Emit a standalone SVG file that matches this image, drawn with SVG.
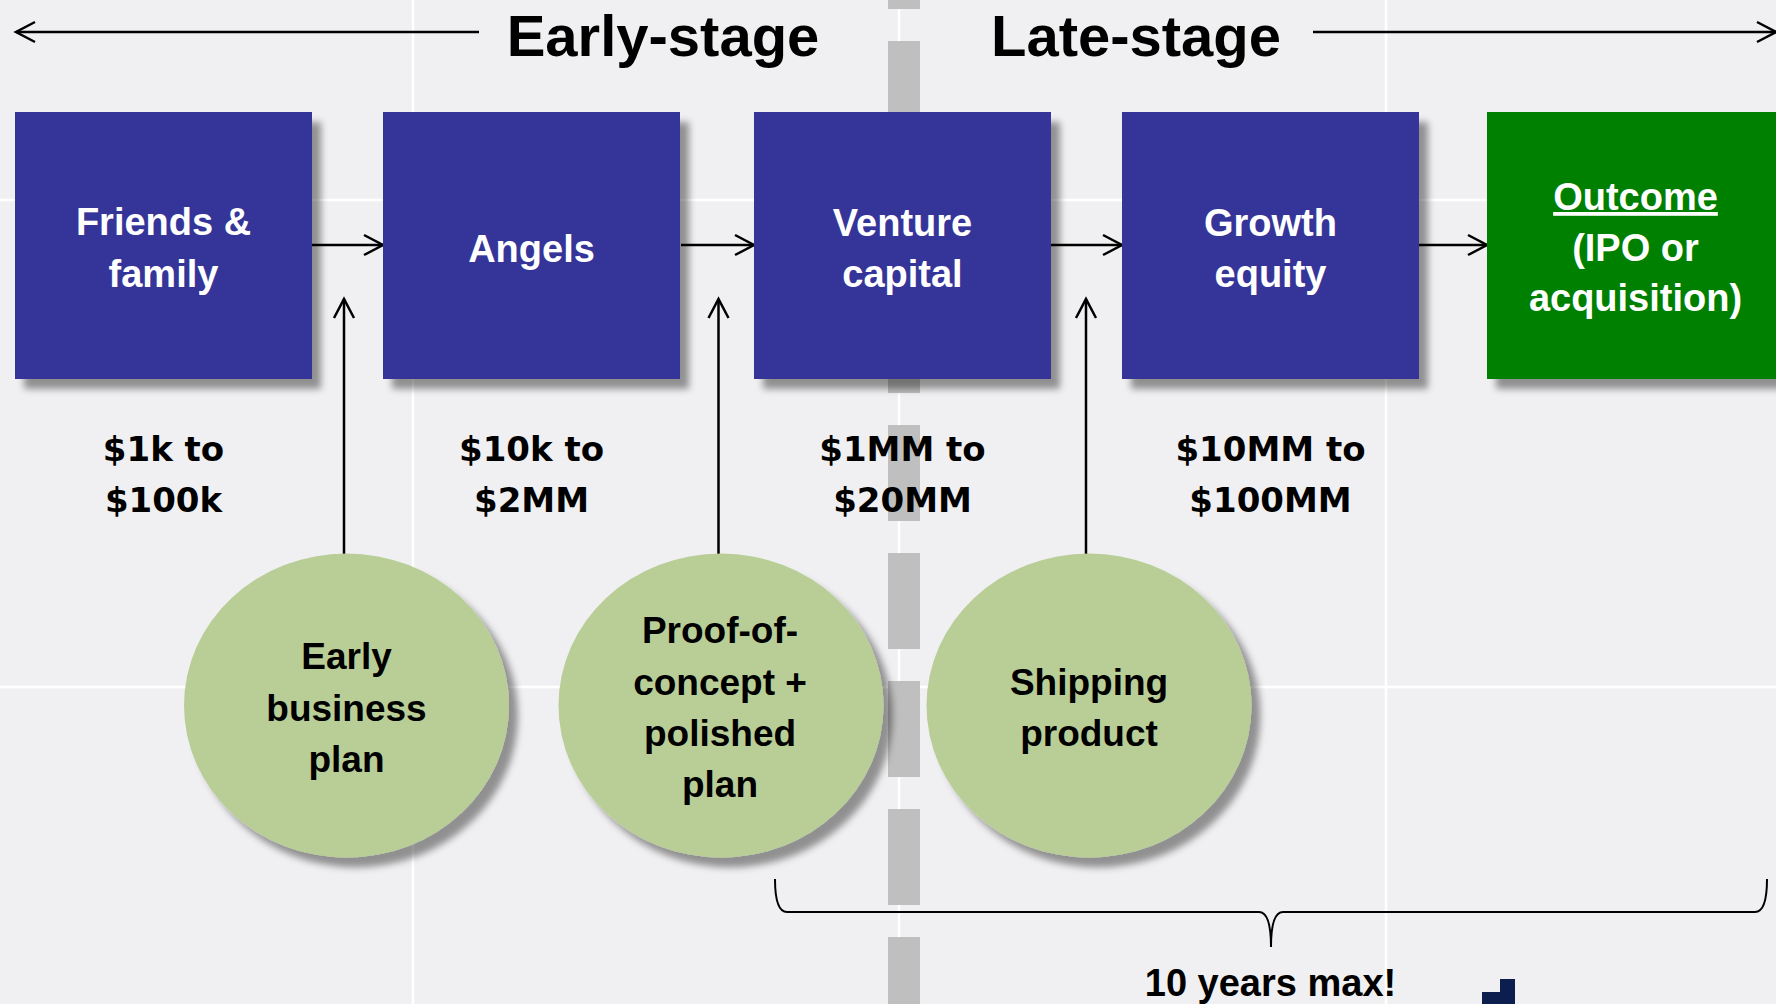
<svg xmlns="http://www.w3.org/2000/svg" width="1776" height="1004" viewBox="0 0 1776 1004">
<style>
.grid{stroke:#ffffff;stroke-width:2.5}
.box{fill:#343499;filter:url(#sh)}
.out{fill:#008000;filter:url(#sh)}
.ell{fill:#b9ce97;filter:url(#sh)}
.bt{font-family:"Liberation Sans",Arial,sans-serif;font-weight:bold;font-size:38px;fill:#ffffff;text-anchor:middle}
.et{font-family:"Liberation Sans",Arial,sans-serif;font-weight:bold;font-size:37px;fill:#000000;text-anchor:middle}
.amt{font-family:"DejaVu Sans",sans-serif;font-weight:bold;font-size:34px;fill:#000000;text-anchor:middle}
.title{font-family:"Liberation Sans",Arial,sans-serif;font-weight:bold;font-size:58px;fill:#000000;text-anchor:middle}
.conn{stroke:#000000;stroke-width:2.5;fill:none;marker-end:url(#arr)}
</style>
<defs>
<filter id="sh" x="-10%" y="-10%" width="130%" height="130%">
<feDropShadow dx="9" dy="10" stdDeviation="3.5" flood-color="#000000" flood-opacity="0.4"/>
</filter>
<marker id="arr" markerUnits="userSpaceOnUse" markerWidth="24" markerHeight="26" viewBox="0 0 24 26" refX="21" refY="13" orient="auto">
<path d="M2,3 L21,13 L2,23" fill="none" stroke="#000000" stroke-width="2.5"/>
</marker>
</defs>
<rect x="0" y="0" width="1776" height="1004" fill="#f0f0f2"/>
<g id="grid">
<line class="grid" x1="413" y1="0" x2="413" y2="1004"/>
<line class="grid" x1="899" y1="0" x2="899" y2="1004"/>
<line class="grid" x1="1386" y1="0" x2="1386" y2="1004"/>
<line class="grid" x1="0" y1="200" x2="1776" y2="200"/>
<line class="grid" x1="0" y1="687" x2="1776" y2="687"/>
</g>
<line id="divider" x1="904" y1="-87" x2="904" y2="1004" stroke="#bfbfbf" stroke-width="32" stroke-dasharray="96 32"/>
<g id="headers">
<text class="title" x="663" y="56">Early-stage</text>
<text class="title" x="1136" y="56">Late-stage</text>
</g>
<g id="connectors">
<line class="conn" x1="479" y1="32" x2="16" y2="32"/>
<line class="conn" x1="1313" y1="32" x2="1776" y2="32"/>
<line class="conn" x1="312" y1="245" x2="383" y2="245"/>
<line class="conn" x1="681" y1="245" x2="754" y2="245"/>
<line class="conn" x1="1051" y1="245" x2="1122" y2="245"/>
<line class="conn" x1="1419" y1="245" x2="1487" y2="245"/>
<line class="conn" x1="344" y1="554" x2="344" y2="299"/>
<line class="conn" x1="718.5" y1="554" x2="718.5" y2="299"/>
<line class="conn" x1="1086" y1="554" x2="1086" y2="299"/>
</g>
<g id="friends">
<rect class="box" x="15" y="112" width="297" height="267"/>
<text class="bt" x="163.5" y="235">Friends &amp;</text>
<text class="bt" x="163.5" y="287">family</text>
</g>
<g id="angels">
<rect class="box" x="383" y="112" width="297" height="267"/>
<text class="bt" x="531.5" y="261.5">Angels</text>
</g>
<g id="venture">
<rect class="box" x="754" y="112" width="297" height="267"/>
<text class="bt" x="902.5" y="236">Venture</text>
<text class="bt" x="902.5" y="287">capital</text>
</g>
<g id="growth">
<rect class="box" x="1122" y="112" width="297" height="267"/>
<text class="bt" x="1270.5" y="236">Growth</text>
<text class="bt" x="1270.5" y="287">equity</text>
</g>
<g id="outcome">
<rect class="out" x="1487" y="112" width="297" height="267"/>
<text class="bt" x="1635.5" y="210" text-decoration="underline">Outcome</text>
<text class="bt" x="1635.5" y="261">(IPO or</text>
<text class="bt" x="1635.5" y="311">acquisition)</text>
</g>
<g id="amounts">
<text class="amt" x="163.5" y="461">$1k to</text>
<text class="amt" x="163.5" y="512">$100k</text>
<text class="amt" x="531.5" y="461">$10k to</text>
<text class="amt" x="531.5" y="512">$2MM</text>
<text class="amt" x="902.5" y="461">$1MM to</text>
<text class="amt" x="902.5" y="512">$20MM</text>
<text class="amt" x="1270.5" y="461">$10MM to</text>
<text class="amt" x="1270.5" y="512">$100MM</text>
</g>
<g id="early-plan">
<ellipse class="ell" cx="346.5" cy="705.5" rx="162.5" ry="152"/>
<text class="et" x="346.5" y="669">Early</text>
<text class="et" x="346.5" y="721">business</text>
<text class="et" x="346.5" y="772">plan</text>
</g>
<g id="proof">
<ellipse class="ell" cx="721" cy="705.5" rx="162.5" ry="152"/>
<text class="et" x="720" y="643">Proof-of-</text>
<text class="et" x="720" y="695">concept +</text>
<text class="et" x="720" y="746">polished</text>
<text class="et" x="720" y="797">plan</text>
</g>
<g id="shipping">
<ellipse class="ell" cx="1089" cy="705.5" rx="162.5" ry="152"/>
<text class="et" x="1089" y="695">Shipping</text>
<text class="et" x="1089" y="746">product</text>
</g>
<g id="brace">
<path d="M775,879 Q775,912 787,912 L1259,912 Q1271,912 1271,947 Q1271,912 1283,912 L1755,912 Q1767,912 1767,879" fill="none" stroke="#000000" stroke-width="2"/>
<text class="bt" x="1270.5" y="996" style="fill:#000000">10 years max!</text>
</g>
<path id="corner-mark" d="M1500,979 L1515,979 L1515,1004 L1482,1004 L1482,992 L1500,992 Z" fill="#0b1e4e"/>
</svg>
